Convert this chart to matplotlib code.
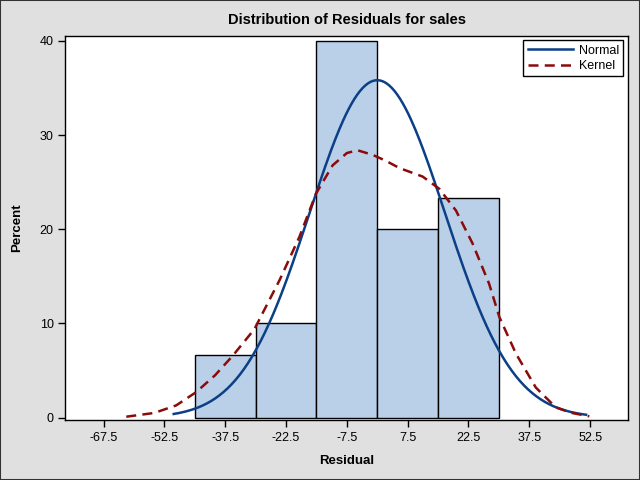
import numpy as np
import matplotlib
matplotlib.use("Agg")
import matplotlib.pyplot as plt
from matplotlib.patches import Rectangle

# Data
bin_centers = [-37.5, -22.5, -7.5, 7.5, 22.5]
bin_width = 15
percents = [6.667, 10.0, 40.0, 20.0, 23.333]

normal_mu = 0.0
normal_sigma = 16.7
normal_range = (-50.2, 51.5)

kernel_x = [-61.9, -55.0, -49.6, -44.7, -40.0, -35.6, -30.3, -24.1, -19.2, -15.1, -11.0,
            -7.5, -4.9, -1.1, 2.0, 5.5, 11.2, 15.3, 19.4, 23.5, 27.6, 30.1, 34.2, 39.1, 44.0, 48.0, 52.3]
kernel_y = [0.1, 0.5, 1.3, 2.7, 4.5, 6.6, 9.4, 14.6, 19.2, 23.8, 26.8,
            28.1, 28.4, 27.9, 27.3, 26.5, 25.6, 24.3, 22.0, 18.5, 14.2, 10.7, 6.8, 3.2, 1.1, 0.5, 0.14]

xticks = [-67.5, -52.5, -37.5, -22.5, -7.5, 7.5, 22.5, 37.5, 52.5]
xtick_labels = ["-67.5", "-52.5", "-37.5", "-22.5", "-7.5", "7.5", "22.5", "37.5", "52.5"]
yticks = [0, 10, 20, 30, 40]

plt.rcParams['font.family'] = ['Liberation Sans', 'DejaVu Sans']

bg = '#E0E0E0'
fig = plt.figure(figsize=(6.4, 4.8), dpi=100, facecolor=bg)
fig.patches.append(Rectangle((0, 0), 1, 1, transform=fig.transFigure, fill=False,
                             edgecolor='#333333', linewidth=1.5, zorder=10))
ax = fig.add_axes([0.1023, 0.125, 0.8787, 0.80])

ax.bar(bin_centers, percents, width=bin_width, color='#BACFE8', edgecolor='black',
       linewidth=1.0, zorder=1)

xs = np.linspace(normal_range[0], normal_range[1], 300)
pdf = 100 * bin_width / (normal_sigma * np.sqrt(2 * np.pi)) * np.exp(-0.5 * ((xs - normal_mu) / normal_sigma) ** 2)
ax.plot(xs, pdf, color='#0B3F86', linewidth=1.8, label='Normal', zorder=3)
ax.plot(kernel_x, kernel_y, color='#8B0A0A', linewidth=1.8, linestyle=(0, (4, 2.5)),
        label='Kernel', zorder=3)

ax.set_xlim(-76.9, 61.8)
ax.set_ylim(-0.25, 40.53)
ax.set_xticks(xticks)
ax.set_xticklabels(xtick_labels)
ax.set_yticks(yticks)
ax.tick_params(direction='out', length=5, width=1, labelsize=9, colors='black')
for s in ax.spines.values():
    s.set_linewidth(1.0)

ax.set_title('Distribution of Residuals for sales', fontsize=10.5, fontweight='bold', pad=9)
ax.set_xlabel('Residual', fontsize=9.5, fontweight='bold', labelpad=8)
ax.set_ylabel('Percent', fontsize=9.5, fontweight='bold', labelpad=12)

leg = ax.legend(loc='upper right', fontsize=9, frameon=True, fancybox=False,
                edgecolor='black', framealpha=1, borderpad=0.35, labelspacing=0.25,
                handlelength=3.6, handletextpad=0.5, borderaxespad=0.35)
leg.get_frame().set_linewidth(1.0)

fig.savefig('out.png', dpi=100, facecolor=bg)
